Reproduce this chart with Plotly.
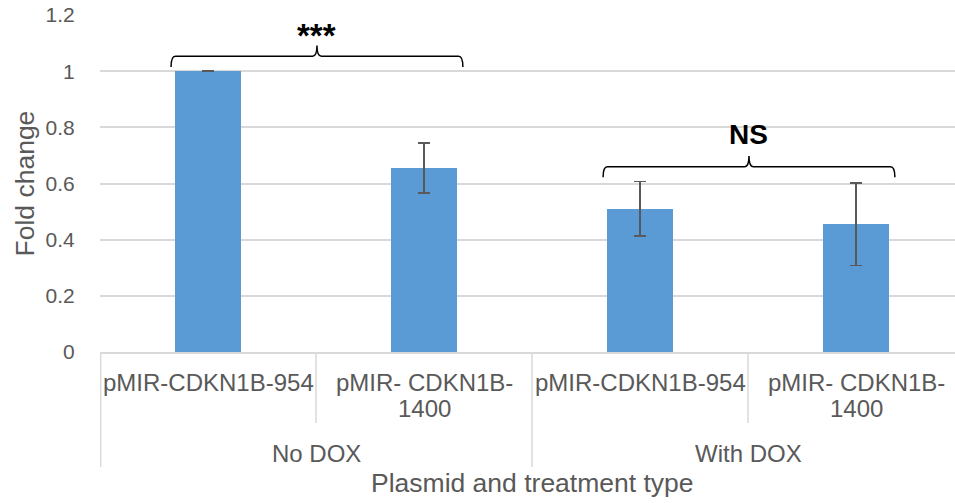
import plotly.graph_objects as go

# Fold change per plasmid, grouped by treatment
groups = ["No DOX", "With DOX"]
plasmids = ["pMIR-CDKN1B-954", "pMIR- CDKN1B-<br>1400"]
fold_change = [1.0, 0.655, 0.51, 0.455]
error = [0.0, 0.09, 0.097, 0.147]
y_ticks = [0, 0.2, 0.4, 0.6, 0.8, 1.0, 1.2]
y_tick_labels = ["0", "0.2", "0.4", "0.6", "0.8", "1", "1.2"]

# Significance brackets: (first bar, last bar, label)
comparisons = [(0, 1, "***"), (2, 3, "NS")]
# Label styling per comparison: (font size, gap above bracket tip in y units)
label_style = {"***": (33, 0.036), "NS": (28, 0.076)}

W, H = 955, 503
ML, MT, MB = 100, 15, 151
PLOT_H = H - MT - MB
FONT = "Liberation Sans, Arial, sans-serif"
GREY = "#595959"
LINE = "#d9d9d9"

n = len(fold_change)
xs = list(range(n))
x_range = [-0.5, 3.4583]


def py(pixel_y):
    """Paper y for a pixel row measured from the top of the page."""
    return (H - MB - pixel_y) / PLOT_H


fig = go.Figure()
fig.add_trace(go.Bar(
    x=xs, y=fold_change, width=0.31,
    marker=dict(color="#5B9BD5", line=dict(width=0)),
    error_y=dict(type="data", array=error, visible=True,
                 color=GREY, thickness=1.8, width=6),
    showlegend=False,
))

shapes = []
annotations = []

# Category labels under each bar, with group labels beneath
for i in xs:
    label = plasmids[i % len(plasmids)]
    lines = label.split("<br>")
    for k, line in enumerate(lines):
        annotations.append(dict(
            x=i, y=py(382 + 26 * k), xref="x", yref="paper",
            text=line, showarrow=False, xanchor="center", yanchor="middle",
            font=dict(family=FONT, size=24, color=GREY)))

per_group = len(plasmids)
for g, name in enumerate(groups):
    start = g * per_group - 0.5
    annotations.append(dict(
        x=start + per_group / 2, y=py(453), xref="x", yref="paper",
        text=name, showarrow=False, xanchor="center", yanchor="middle",
        font=dict(family=FONT, size=24, color=GREY)))

# Divider lines in the category area
for b in range(n + 1):
    xb = b - 0.5 + (0.003 if b == 0 else 0)
    outer = b % per_group == 0
    shapes.append(dict(
        type="line", xref="x", yref="paper",
        x0=xb, x1=xb, y0=0, y1=py(467 if outer else 423),
        line=dict(color=LINE, width=1.5)))

# Curly brackets over compared bars
bracket_pad = [0.171, 0.18]
for a, b, text in comparisons:
    x0 = a - bracket_pad[0]
    x1 = b + bracket_pad[1]
    xm = (x0 + x1) / 2
    top = max(fold_change[a] + error[a], fold_change[b] + error[b])
    yh = top + 0.053
    dy = 0.038
    dx = 0.02
    path = (f"M {x0},{yh - dy} Q {x0},{yh} {x0 + dx},{yh} "
            f"L {xm - dx},{yh} Q {xm},{yh} {xm},{yh + dy} "
            f"Q {xm},{yh} {xm + dx},{yh} "
            f"L {x1 - dx},{yh} Q {x1},{yh} {x1},{yh - dy}")
    shapes.append(dict(type="path", xref="x", yref="y", path=path,
                       line=dict(color="#000000", width=1.5)))
    size, gap = label_style[text]
    annotations.append(dict(
        x=xm, y=yh + dy + gap, xref="x", yref="y", text=f"<b>{text}</b>",
        showarrow=False, xanchor="center", yanchor="middle",
        font=dict(family=FONT, size=size, color="#000000")))

# Axis titles
annotations.append(dict(
    x=(24 - ML) / (W - ML), y=0.5, xref="paper", yref="paper",
    text="Fold change", textangle=-90, showarrow=False,
    xanchor="center", yanchor="middle",
    font=dict(family=FONT, size=26.5, color=GREY)))
annotations.append(dict(
    x=(532 - ML) / (W - ML), y=py(483), xref="paper", yref="paper",
    text="Plasmid and treatment type", showarrow=False,
    xanchor="center", yanchor="middle",
    font=dict(family=FONT, size=26.5, color=GREY)))

fig.update_layout(
    width=W, height=H,
    margin=dict(l=ML, r=0, t=MT, b=MB, pad=0),
    paper_bgcolor="white", plot_bgcolor="white",
    shapes=shapes, annotations=annotations,
    font=dict(family=FONT, color=GREY),
    xaxis=dict(range=x_range, showticklabels=False, showgrid=False,
               zeroline=False, showline=True, linecolor=LINE, linewidth=1.5,
               ticks="", fixedrange=True),
    yaxis=dict(range=[0, 1.2], tickvals=y_ticks, ticktext=y_tick_labels,
               showgrid=True, gridcolor=LINE, gridwidth=1.5,
               zeroline=False, showline=False,
               ticks="outside", ticklen=20, tickcolor="rgba(0,0,0,0)",
               tickfont=dict(family=FONT, size=21, color=GREY),
               fixedrange=True),
    bargap=0,
)

fig.write_html("out.html", config={"displayModeBar": False})
